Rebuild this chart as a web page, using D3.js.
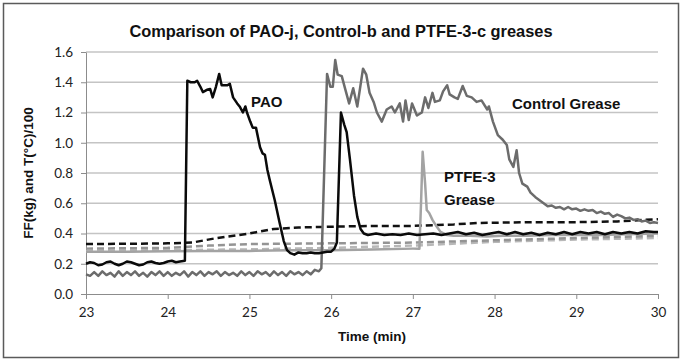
<!DOCTYPE html>
<html lang="en">
<head>
    <meta charset="UTF-8">
    <title>Comparison of PAO-j, Control-b and PTFE-3-c greases</title>
    <style>
        body { margin: 0; background: #fff; }
        .tick text { font-family: Lato, sans-serif; font-size: 13.5px; fill: #222; }
        .tick line { stroke: #8c8c8c; }
        .domain { stroke: #8c8c8c; }
        .bold-label { font-family: 'Liberation Sans', Arial, sans-serif; font-weight: bold; fill: #111; }
    </style>
</head>
<body>
    <svg width="682" height="361"></svg>

    <script src="https://d3js.org/d3.v7.min.js"></script>
    <script>

        const margin = { left: 86, right: 24, top: 52, bottom: 67 };

        // axis ticks
        const xTicks = [23, 24, 25, 26, 27, 28, 29, 30];
        const yTicks = [0, 0.2, 0.4, 0.6, 0.8, 1.0, 1.2, 1.4, 1.6];

        // friction force, PAO grease  [time (min), FF]
        const paoFF = [
            [23.00, 0.20], [23.05, 0.21], [23.10, 0.205], [23.15, 0.19], [23.20, 0.195], [23.25, 0.21],
            [23.30, 0.215], [23.35, 0.20], [23.40, 0.19], [23.45, 0.20], [23.50, 0.215], [23.55, 0.21],
            [23.60, 0.20], [23.65, 0.19], [23.70, 0.195], [23.75, 0.21], [23.80, 0.215], [23.85, 0.205],
            [23.90, 0.20], [23.95, 0.205], [24.00, 0.215], [24.05, 0.22], [24.10, 0.21], [24.15, 0.215],
            [24.21, 0.22], [24.24, 1.41], [24.28, 1.40], [24.33, 1.40], [24.36, 1.41], [24.40, 1.37],
            [24.43, 1.335], [24.48, 1.35], [24.52, 1.355], [24.55, 1.30], [24.59, 1.37], [24.63, 1.455],
            [24.66, 1.38], [24.70, 1.38], [24.73, 1.38], [24.76, 1.39], [24.80, 1.30], [24.85, 1.26],
            [24.88, 1.24], [24.92, 1.20], [24.95, 1.24], [24.97, 1.20], [25.01, 1.14], [25.04, 1.10],
            [25.08, 1.10], [25.13, 0.97], [25.16, 0.93], [25.19, 0.92], [25.22, 0.82], [25.25, 0.75],
            [25.31, 0.62], [25.37, 0.47], [25.42, 0.35], [25.46, 0.29], [25.50, 0.27], [25.55, 0.26],
            [25.60, 0.275], [25.65, 0.27], [25.70, 0.27], [25.75, 0.275], [25.80, 0.27], [25.85, 0.27],
            [25.90, 0.275], [25.95, 0.28], [26.00, 0.28], [26.04, 0.30], [26.07, 0.34], [26.12, 1.20],
            [26.16, 1.12], [26.19, 1.07], [26.23, 0.89], [26.28, 0.65], [26.32, 0.51], [26.36, 0.43],
            [26.40, 0.40], [26.45, 0.39], [26.55, 0.40], [26.65, 0.39], [26.75, 0.395], [26.85, 0.39],
            [26.95, 0.40], [27.05, 0.39], [27.15, 0.395], [27.25, 0.40], [27.35, 0.39], [27.45, 0.40],
            [27.55, 0.41], [27.65, 0.395], [27.75, 0.405], [27.85, 0.39], [27.95, 0.40], [28.05, 0.41],
            [28.15, 0.395], [28.25, 0.41], [28.35, 0.395], [28.45, 0.405], [28.55, 0.39], [28.65, 0.405],
            [28.75, 0.395], [28.85, 0.41], [28.95, 0.395], [29.05, 0.41], [29.15, 0.40], [29.25, 0.41],
            [29.35, 0.395], [29.45, 0.41], [29.55, 0.40], [29.65, 0.41], [29.75, 0.40], [29.85, 0.415],
            [29.95, 0.41], [30.00, 0.41]
        ];

        // friction force, control grease
        const controlFF = [
            [23.00, 0.13], [23.05, 0.12], [23.10, 0.145], [23.15, 0.12], [23.20, 0.15], [23.25, 0.125],
            [23.30, 0.14], [23.35, 0.115], [23.40, 0.15], [23.45, 0.12], [23.50, 0.145], [23.55, 0.125],
            [23.60, 0.15], [23.65, 0.12], [23.70, 0.14], [23.75, 0.115], [23.80, 0.145], [23.85, 0.125],
            [23.90, 0.15], [23.95, 0.12], [24.00, 0.145], [24.05, 0.12], [24.10, 0.14], [24.15, 0.125],
            [24.20, 0.15], [24.25, 0.115], [24.30, 0.145], [24.35, 0.125], [24.40, 0.15], [24.45, 0.12],
            [24.50, 0.145], [24.55, 0.13], [24.60, 0.15], [24.65, 0.12], [24.70, 0.145], [24.75, 0.125],
            [24.80, 0.14], [24.85, 0.12], [24.90, 0.15], [24.95, 0.125], [25.00, 0.145], [25.05, 0.12],
            [25.10, 0.15], [25.15, 0.13], [25.20, 0.145], [25.25, 0.12], [25.30, 0.15], [25.35, 0.125],
            [25.40, 0.145], [25.45, 0.12], [25.50, 0.15], [25.55, 0.13], [25.60, 0.145], [25.65, 0.125],
            [25.70, 0.15], [25.75, 0.13], [25.80, 0.16], [25.85, 0.15], [25.88, 0.17], [25.95, 1.455],
            [25.99, 1.37], [26.02, 1.37], [26.05, 1.547], [26.08, 1.45], [26.13, 1.44], [26.17, 1.36],
            [26.22, 1.26], [26.27, 1.36], [26.32, 1.24], [26.39, 1.49], [26.43, 1.45], [26.47, 1.33],
            [26.52, 1.27], [26.56, 1.20], [26.62, 1.14], [26.68, 1.22], [26.74, 1.24], [26.78, 1.20],
            [26.84, 1.26], [26.88, 1.14], [26.91, 1.28], [26.95, 1.15], [26.99, 1.26], [27.05, 1.18],
            [27.11, 1.20], [27.15, 1.30], [27.19, 1.23], [27.24, 1.33], [27.27, 1.27], [27.33, 1.28],
            [27.37, 1.34], [27.42, 1.38], [27.45, 1.32], [27.51, 1.30], [27.55, 1.29], [27.61, 1.375],
            [27.66, 1.31], [27.72, 1.30], [27.78, 1.27], [27.84, 1.28], [27.91, 1.22], [27.93, 1.24],
            [27.98, 1.14], [28.04, 1.05], [28.10, 1.02], [28.15, 0.985], [28.18, 0.89], [28.23, 0.84],
            [28.27, 0.95], [28.30, 0.80], [28.34, 0.73], [28.40, 0.71], [28.44, 0.67], [28.50, 0.64],
            [28.55, 0.62], [28.60, 0.60], [28.65, 0.58], [28.70, 0.585], [28.75, 0.57], [28.80, 0.575],
            [28.85, 0.56], [28.90, 0.575], [28.95, 0.56], [29.00, 0.565], [29.05, 0.55], [29.10, 0.56],
            [29.15, 0.55], [29.20, 0.555], [29.25, 0.535], [29.30, 0.545], [29.35, 0.53], [29.40, 0.535],
            [29.45, 0.51], [29.50, 0.525], [29.55, 0.515], [29.60, 0.50], [29.65, 0.505], [29.70, 0.49],
            [29.75, 0.495], [29.80, 0.48], [29.85, 0.485], [29.90, 0.47], [29.95, 0.475], [30.00, 0.47]
        ];

        // friction force, PTFE-3 grease
        const ptfeFF = [
            [23.00, 0.28], [23.50, 0.28], [24.00, 0.283], [24.50, 0.285], [25.00, 0.285], [25.50, 0.29],
            [26.00, 0.29], [26.50, 0.295], [27.00, 0.30], [27.08, 0.30], [27.10, 0.60], [27.12, 0.94],
            [27.15, 0.73], [27.17, 0.555], [27.20, 0.535], [27.24, 0.49], [27.28, 0.455], [27.34, 0.41],
            [27.42, 0.39], [27.50, 0.385], [27.70, 0.385], [27.90, 0.38], [28.10, 0.385], [28.40, 0.385],
            [28.70, 0.39], [29.00, 0.39], [29.30, 0.39], [29.60, 0.395], [30.00, 0.40]
        ];

        // temperatures / 100
        const paoTemp = [
            [23.00, 0.33], [23.50, 0.332], [24.00, 0.335], [24.30, 0.34], [24.60, 0.37], [25.00, 0.40],
            [25.30, 0.43], [25.60, 0.44], [26.00, 0.445], [26.50, 0.45], [27.00, 0.45], [27.50, 0.46],
            [27.80, 0.47], [28.50, 0.475], [29.00, 0.475], [29.50, 0.48], [30.00, 0.495]
        ];
        const controlTemp = [
            [23.00, 0.30], [24.00, 0.305], [24.50, 0.32], [25.00, 0.33], [26.00, 0.335], [27.00, 0.34],
            [28.00, 0.355], [29.00, 0.37], [30.00, 0.385]
        ];
        const ptfeTemp = [
            [23.00, 0.285], [24.00, 0.29], [25.00, 0.295], [26.00, 0.305], [27.00, 0.32], [28.00, 0.345],
            [29.00, 0.36], [30.00, 0.37]
        ];

        const svg = d3.select('svg');
        const width = +svg.attr('width');
        const height = +svg.attr('height');
        const innerWidth = width - margin.left - margin.right;
        const innerHeight = height - margin.top - margin.bottom;

        // outer frame
        svg.append('rect')
            .attr('x', 3.5).attr('y', 3.5)
            .attr('width', width - 7).attr('height', height - 7)
            .attr('fill', '#fff')
            .attr('stroke', '#5a5a5a')
            .attr('stroke-width', 1.5);

        const xScale = d3.scaleLinear().domain([23, 30]).range([0, innerWidth]);
        const yScale = d3.scaleLinear().domain([0, 1.6]).range([innerHeight, 0]);

        const group = svg.append('g')
            .attr('transform', 'translate(' + margin.left + ' ' + margin.top + ')');

        // horizontal gridlines
        group.append('g')
            .selectAll('line')
            .data(yTicks.slice(1))
            .join('line')
            .attr('x1', 0).attr('x2', innerWidth)
            .attr('y1', d => yScale(d)).attr('y2', d => yScale(d))
            .attr('stroke', '#c4c4c4')
            .attr('stroke-width', 1.3);

        const xAxis = d3.axisBottom(xScale)
            .tickValues(xTicks)
            .tickFormat(d3.format('d'))
            .tickSizeInner(5)
            .tickSizeOuter(0)
            .tickPadding(8);

        const yAxis = d3.axisLeft(yScale)
            .tickValues(yTicks)
            .tickFormat(d3.format('.1f'))
            .tickSizeInner(5)
            .tickSizeOuter(0)
            .tickPadding(8);

        group.append('g')
            .attr('transform', 'translate(0 ' + innerHeight + ')')
            .call(xAxis);

        group.append('g').call(yAxis);

        const line = d3.line()
            .x(d => xScale(d[0]))
            .y(d => yScale(d[1]));

        // series styles: temperatures dashed, friction solid
        const series = [
            { data: ptfeTemp, color: '#b8b8b8', dash: '7,4', w: 2.5 },
            { data: controlTemp, color: '#949494', dash: '7,4', w: 2.5 },
            { data: paoTemp, color: '#111', dash: '7,4', w: 2.5 },
            { data: ptfeFF, color: '#a3a3a3', dash: null, w: 2.5 },
            { data: controlFF, color: '#6c6c6c', dash: null, w: 2.5 },
            { data: paoFF, color: '#0a0a0a', dash: null, w: 2.5 }
        ];

        group.selectAll('.series')
            .data(series)
            .join('path')
            .attr('class', 'series')
            .attr('d', d => line(d.data))
            .attr('fill', 'none')
            .attr('stroke', d => d.color)
            .attr('stroke-width', d => d.w)
            .attr('stroke-dasharray', d => d.dash)
            .attr('stroke-linejoin', 'round');

        // title and axis labels
        svg.append('text')
            .attr('class', 'bold-label')
            .attr('x', 341).attr('y', 37)
            .attr('text-anchor', 'middle')
            .style('font-size', '16.4px')
            .text('Comparison of PAO-j, Control-b and PTFE-3-c greases');

        svg.append('text')
            .attr('class', 'bold-label')
            .attr('x', margin.left + innerWidth / 2).attr('y', 341)
            .attr('text-anchor', 'middle')
            .style('font-size', '13.5px')
            .text('Time (min)');

        svg.append('text')
            .attr('class', 'bold-label')
            .attr('transform', 'translate(33 ' + (margin.top + innerHeight / 2) + ') rotate(-90)')
            .attr('text-anchor', 'middle')
            .style('font-size', '13.5px')
            .text('FF(kg) and T(°C)/100');

        // in-plot series labels
        const labels = [
            { text: 'PAO', x: 251, y: 107 },
            { text: 'Control Grease', x: 512, y: 109 },
            { text: 'PTFE-3', x: 444, y: 182 },
            { text: 'Grease', x: 444, y: 205 }
        ];

        svg.selectAll('.series-label')
            .data(labels)
            .join('text')
            .attr('class', 'series-label bold-label')
            .attr('x', d => d.x).attr('y', d => d.y)
            .style('font-size', '15px')
            .text(d => d.text);

    </script>
</body>
</html>
